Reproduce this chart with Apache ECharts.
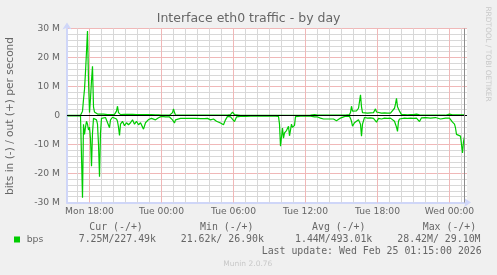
<!DOCTYPE html>
<html><head><meta charset="utf-8">
<script src="https://cdn.jsdelivr.net/npm/echarts@6/dist/echarts.min.js"></script>
<style>html,body{margin:0;padding:0;background:#f0f0f0}#c{width:497px;height:275px}</style>
</head><body><div id="c"></div><script>
const TITLE = 'Interface eth0 traffic - by day';
const Y_NAME = 'bits in (-) / out (+) per second';
// sample times: minutes since Mon 00:00
const T = [
 970,995,1020,1035,1040,1045,1050,1055,1060,1065,
 1070,1075,1080,1085,1090,1095,1100,1105,1110,1115,
 1120,1125,1130,1135,1140,1150,1160,1170,1180,1185,
 1195,1205,1215,1220,1225,1230,1235,1245,1255,1265,
 1275,1285,1295,1305,1315,1325,1335,1350,1360,1375,
 1390,1410,1425,1440,1460,1480,1490,1495,1500,1505,
 1510,1520,1535,1560,1585,1610,1635,1645,1655,1670,
 1685,1700,1715,1725,1735,1745,1750,1760,1770,1785,
 1795,1805,1815,1835,1860,1885,1910,1935,1960,1985,
 2010,2025,2030,2035,2045,2050,2055,2065,2075,2080,
 2090,2095,2105,2110,2135,2160,2185,2195,2205,2220,
 2235,2250,2260,2275,2285,2300,2315,2325,2335,2340,
 2360,2380,2385,2390,2395,2405,2415,2425,2435,2440,
 2445,2455,2470,2485,2500,2510,2515,2525,2540,2555,
 2570,2585,2595,2605,2610,2615,2620,2625,2630,2640,
 2655,2670,2685,2700,2715,2725,2730,2740,2760,2785,
 2810,2835,2860,2880,2885,2895,2905,2910,2915,2925,
 2935,2940,2945,2950,2955
];
// received (in) traffic, Mbit/s, drawn below zero
const IN_M = [
 0.1,0.1,0.1,0.1,0.3,28.4,3,6.5,4,2,
 3,5,4,8,17.5,6,1,0.8,1,1.5,
 3,10,21.1,6,1,0.8,0.7,1,4.2,1.5,
 0.6,0.8,1.2,2,4,6.9,3,2,3.5,2.5,
 3.2,2.5,1.5,3,2,3.2,2.5,4.7,2.5,1.4,
 1,1.5,0.8,0.3,0.5,0.5,0.8,1.5,1.8,2.6,
 1.5,1,1,1,1,1,1.1,0.45,1.1,1,
 1.5,1.2,2,1.5,2.6,2,3.2,1.5,0.3,0.5,
 1,2.1,0.5,0.3,0.3,0.2,0.2,0.2,0.2,0.2,
 0.2,0.3,3,10.6,4.3,7.8,6,5.2,3.7,7,
 3,4.1,3.4,0.4,0.2,0.2,0.2,0.3,0.5,0.5,
 0.9,1.2,1.8,1.2,1.5,1.2,1.8,1.2,0.9,0.3,
 0.2,0.3,1,2,3.7,2.5,2,1.5,3,7.1,
 3,0.7,0.9,0.8,1,1.2,2.3,1,1.2,0.9,
 1,0.9,1,2,3,4,5.5,2,1.2,0.9,
 0.9,1,0.9,1,0.9,1.2,2.1,0.8,0.7,0.9,
 0.7,1.2,0.9,0.9,1,2.3,3,4.3,6.5,6,
 7.1,6.5,12.9,9,7.25
];
// sent (out) traffic, Mbit/s
const OUT_M = [
 0.05,0.05,0.05,0.1,0.2,1.5,5.5,9,15,22,
 29.1,12,1,6,12,17,3,1.2,0.8,0.7,
 0.5,0.4,0.3,0.5,0.6,0.5,0.4,0.3,0.3,0.3,
 0.3,0.4,1.5,3.2,1,0.5,0.3,0.5,0.4,0.5,
 0.4,0.5,0.4,0.3,0.3,0.4,0.3,0.3,0.3,0.3,
 0.3,0.2,0.2,0.1,0.1,0.1,0.3,1,2.3,1,
 0.2,0.1,0.1,0.1,0.1,0.1,0.1,0.2,0.1,0.1,
 0.1,0.1,0.1,0.1,0.1,0.1,0.1,0.1,0.1,0.3,
 1.2,0.3,0.1,0.05,0.05,0.05,0.05,0.05,0.05,0.05,
 0.05,0.05,0.05,0.05,0.05,0.05,0.05,0.05,0.05,0.05,
 0.05,0.05,0.05,0.05,0.05,0.05,0.1,0.6,0.3,0.1,
 0.1,0.1,0.1,0.1,0.1,0.1,0.1,0.1,0.1,0.1,
 0.1,0.3,1,3.2,1.5,1.6,1.6,2.5,7.1,3,
 1,1,0.8,0.9,1,2.3,1.2,0.8,0.8,0.9,
 0.8,0.8,1,2.5,4,5.9,3,3.5,1.5,0.3,
 0.3,0.2,0.3,0.3,0.5,0.3,0.2,0.1,0.1,0.1,
 0.1,0.1,0.1,0.5,0.3,0.2,0.2,0.2,0.2,0.2,
 0.2,0.2,0.2,0.2,0.23
];
const X_MIN = 967.5, X_MAX = 2967.5, NOW = 2955;
const X_TICKS = [1080,1440,1800,2160,2520,2880];
const X_LABELS = ['Mon 18:00','Tue 00:00','Tue 06:00','Tue 12:00','Tue 18:00','Wed 00:00'];
const Y_MIN = -30, Y_MAX = 30;
const Y_TICKS = [-30,-20,-10,0,10,20,30];
const Y_LABELS = ['-30 M','-20 M','-10 M','0','10 M','20 M','30 M'];
const LEGEND_NAME = 'bps';
const LEG_HEAD = ['Cur (-/+)','Min (-/+)','Avg (-/+)','Max (-/+)'];
const LEG_VALS = ['7.25M/227.49k','21.62k/ 26.90k','1.44M/493.01k','28.42M/ 29.10M'];
const LAST_UPDATE = 'Last update: Wed Feb 25 01:15:00 2026';
const FOOTER = 'Munin 2.0.76';
const WATERMARK = 'RRDTOOL / TOBI OETIKER';

const GREEN = '#00CC00', FONT = '#666666', AXIS = '#CFD6F8';
const GRID_MINOR = '#d8d8d8', GRID_MAJOR = '#f0b8b8';
const SANS = 'DejaVu Sans', MONO = 'DejaVu Sans Mono';

const chart = echarts.init(document.getElementById('c'), null, {renderer:'canvas', width:497, height:275});
const inData = T.map((t,i)=>[t,-IN_M[i]]);
const outData = T.map((t,i)=>[t,OUT_M[i]]);
// full hours inside the plot, for the vertical grid
const HOURS = [];
for (let m = 1020; m <= 2940; m += 60) HOURS.push([m, 0]);

function txt(x,y,text,size,family,color,align,rot){
  return {type:'text', x:x, y:y, rotation:rot||0, silent:true, z:100,
    style:{text:text, fill:color||FONT, font:size+'px "'+family+'"', fontSize:size, fontFamily:family,
      align:align||'left', textAlign:align||'left', verticalAlign:'middle', textVerticalAlign:'middle'}};
}
function ruleSeries(name, z, lines){
  return {type:'line', name:name, data:[[X_MIN,0]], showSymbol:false, silent:true, z:z, lineStyle:{opacity:0},
    markLine:{silent:true, z:z, animation:false, symbol:['none','none'], label:{show:false}, lineStyle:{type:'solid'}, data:lines}};
}
const HEAD_X = [89.3,200,312,422.7];
const VAL_X = [78.7,180.7,295,397.3];
const graphics = [
  txt(248.6,19,TITLE,12.5,SANS,FONT,'center'),
  txt(10.5,116,Y_NAME,10.6,SANS,FONT,'center',Math.PI/2),
  txt(488,54,WATERMARK,7.4,SANS,'#c8c8c8','center',-Math.PI/2),
  {type:'rect', shape:{x:14,y:236.5,width:6,height:6}, style:{fill:GREEN}, silent:true},
  txt(26.7,239.3,LEGEND_NAME,9.3,SANS,FONT,'left'),
  txt(261.7,251,LAST_UPDATE,9.9,MONO,FONT,'left'),
  txt(223.3,264.3,FOOTER,7.5,SANS,'#c8c8c8','left')
];
LEG_HEAD.forEach((s,i)=>graphics.push(txt(HEAD_X[i],227.7,s,9.9,MONO,FONT,'left')));
LEG_VALS.forEach((s,i)=>graphics.push(txt(VAL_X[i],239.3,s,9.9,MONO,FONT,'left')));

chart.setOption({
  backgroundColor:'#f0f0f0',
  animation:false,
  grid:{left:67, top:28.5, width:400, height:174, show:true, backgroundColor:'#ffffff', borderWidth:0},
  xAxis:{type:'value', min:X_MIN, max:X_MAX,
    splitLine:{show:false}, axisTick:{show:false},
    axisLine:{show:true, onZero:false, lineStyle:{color:AXIS, width:2}, symbol:['none','arrow'], symbolSize:[7,7], symbolOffset:[0,4]},
    axisLabel:{customValues:X_TICKS, formatter:v=>{const k=X_TICKS.indexOf(v);return k>=0?X_LABELS[k]:'';},
      color:FONT, fontFamily:SANS, fontSize:9.2, margin:5}},
  yAxis:{type:'value', min:Y_MIN, max:Y_MAX, interval:10,
    axisLine:{show:true, onZero:false, lineStyle:{color:AXIS, width:2}, symbol:['none','arrow'], symbolSize:[7,7], symbolOffset:[0,6]},
    axisTick:{show:false},
    axisLabel:{formatter:v=>{const k=Y_TICKS.indexOf(v);return k>=0?Y_LABELS[k]:'';}, color:FONT, fontFamily:SANS, fontSize:9.2, margin:7},
    splitLine:{show:true, lineStyle:{color:GRID_MAJOR, type:'solid', width:1}},
    minorTick:{show:false, splitNumber:5},
    minorSplitLine:{show:true, lineStyle:{color:GRID_MINOR, type:'solid', width:1}}},
  series:[
    {type:'custom', name:'hour grid', data:HOURS, encode:{x:0, y:1}, silent:true, z:2, clip:false,
      renderItem:function(params, api){
        const m = api.value(0);
        const top = api.coord([m, Y_MAX]);
        const bottom = api.coord([m, Y_MIN]);
        const major = X_TICKS.indexOf(m) >= 0;
        return {type:'rect', silent:true,
          shape:{x:top[0]-0.5, y:top[1], width:1, height:bottom[1]-top[1]},
          style:{fill: major ? GRID_MAJOR : GRID_MINOR}};
      }},
    {type:'line', name:LEGEND_NAME+' in', data:inData, showSymbol:false, z:5, lineStyle:{color:GREEN, width:1.2}, itemStyle:{color:GREEN}},
    {type:'line', name:LEGEND_NAME, data:outData, showSymbol:false, z:5, lineStyle:{color:GREEN, width:1.2}, itemStyle:{color:GREEN}},
    ruleSeries('rules', 10, [{yAxis:0, lineStyle:{color:'#000000', width:1, type:'solid'}},
                             {xAxis:NOW, lineStyle:{color:'#8c8c8c', width:1, type:'solid'}}])
  ],
  graphic:graphics
});
</script></body></html>
